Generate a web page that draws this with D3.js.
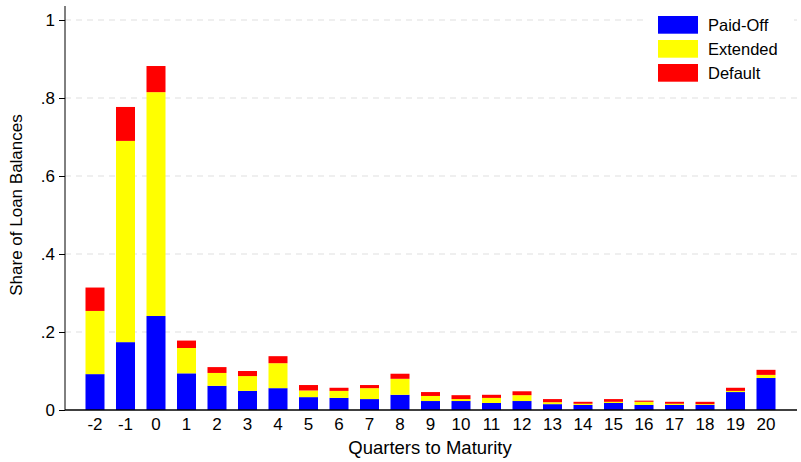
<!DOCTYPE html>
<html>
<head>
<meta charset="utf-8">
<script src="https://cdn.jsdelivr.net/npm/d3@7"></script>
<style>
  html, body { margin: 0; padding: 0; background: #fff; }
  svg { display: block; font-family: "Liberation Sans", Arial, Helvetica, sans-serif; }
</style>
</head>
<body>
<svg id="chart" width="801" height="462"></svg>
<script>
// Quarters relative to loan maturity
const quarters = ["-2","-1","0","1","2","3","4","5","6","7","8","9","10","11","12","13","14","15","16","17","18","19","20"];

// Share of loan balances by outcome (stacked components)
const paidOff  = [0.092,0.174,0.241,0.094,0.062,0.049,0.056,0.033,0.031,0.028,0.039,0.023,0.023,0.018,0.023,0.015,0.013,0.018,0.013,0.013,0.013,0.046,0.082];
const extended = [0.162,0.516,0.574,0.065,0.033,0.038,0.064,0.017,0.018,0.028,0.041,0.013,0.005,0.013,0.015,0.005,0.003,0.003,0.008,0.003,0.002,0.003,0.008];
const defaulted = [0.060,0.087,0.067,0.019,0.015,0.013,0.018,0.014,0.008,0.008,0.013,0.010,0.010,0.008,0.010,0.008,0.005,0.007,0.003,0.005,0.006,0.008,0.013];

const seriesNames = ["Paid-Off", "Extended", "Default"];
const seriesColors = ["#0000ff", "#ffff00", "#ff0000"];
const yTicks = [0, 0.2, 0.4, 0.6, 0.8, 1];
const yTickLabels = ["0", ".2", ".4", ".6", ".8", "1"];

const rows = quarters.map((q, i) => ({
  q, "Paid-Off": paidOff[i], "Extended": extended[i], "Default": defaulted[i]
}));

const svg = d3.select("#chart");
const margin = { left: 65, right: 5, top: 20, bottom: 52 };

const x = d3.scaleBand()
  .domain(quarters)
  .range([margin.left, 796])
  .paddingInner(0.377)
  .paddingOuter(0.672);

const y = d3.scaleLinear()
  .domain([0, 1])
  .range([410, 20]);

// Dashed horizontal gridlines
svg.append("g")
  .selectAll("line")
  .data(yTicks.filter(t => t > 0))
  .join("line")
  .attr("x1", margin.left)
  .attr("x2", 797)
  .attr("y1", d => y(d))
  .attr("y2", d => y(d))
  .attr("stroke", "#eaeaea")
  .attr("stroke-width", 1.3)
  .attr("stroke-dasharray", "6,5");

// Stacked bars
const stack = d3.stack().keys(seriesNames);
const layers = stack(rows);

svg.append("g")
  .selectAll("g")
  .data(layers)
  .join("g")
  .attr("fill", (d, i) => seriesColors[i])
  .selectAll("rect")
  .data(d => d)
  .join("rect")
  .attr("x", d => x(d.data.q))
  .attr("width", x.bandwidth())
  .attr("y", d => y(d[1]))
  .attr("height", d => y(d[0]) - y(d[1]));

// Y axis
const yAxis = d3.axisLeft(y)
  .tickValues(yTicks)
  .tickFormat((d, i) => yTickLabels[i])
  .tickSize(6)
  .tickPadding(4);

const gy = svg.append("g")
  .attr("transform", `translate(${margin.left},0)`)
  .call(yAxis);
gy.select(".domain").attr("d", `M0,${y(0)}V6`).attr("stroke", "#000");
gy.selectAll(".tick line").attr("stroke", "#000");
gy.selectAll(".tick text").attr("font-size", 17).attr("fill", "#000")
  .attr("font-family", "Liberation Sans, Arial, sans-serif");

// X axis
const xAxis = d3.axisBottom(x).tickSize(0).tickPadding(8);
const gx = svg.append("g")
  .attr("transform", `translate(0,${y(0)})`)
  .call(xAxis);
gx.select(".domain").attr("d", `M${margin.left},0H797`).attr("stroke", "#000").attr("stroke-width", 1.3);
gx.selectAll(".tick text").attr("font-size", 17).attr("fill", "#000")
  .attr("font-family", "Liberation Sans, Arial, sans-serif");

// Axis titles
svg.append("text")
  .attr("x", 430)
  .attr("y", 454)
  .attr("text-anchor", "middle")
  .attr("font-size", 18.5)
  .attr("fill", "#000")
  .text("Quarters to Maturity");

svg.append("text")
  .attr("transform", `translate(22,205) rotate(-90)`)
  .attr("text-anchor", "middle")
  .attr("font-size", 17)
  .attr("fill", "#000")
  .text("Share of Loan Balances");

// Legend
const legend = svg.append("g");
legend.append("rect")
  .attr("x", 648).attr("y", 6).attr("width", 146).attr("height", 88)
  .attr("fill", "#fff");
const items = legend.selectAll("g.item")
  .data(seriesNames)
  .join("g")
  .attr("class", "item")
  .attr("transform", (d, i) => `translate(658,${16 + i * 24})`);
items.append("rect")
  .attr("width", 40).attr("height", 17.7)
  .attr("fill", (d, i) => seriesColors[i]);
items.append("text")
  .attr("x", 50).attr("y", 14.5)
  .attr("font-size", 16.5)
  .attr("fill", "#000")
  .text(d => d);
</script>
</body>
</html>
